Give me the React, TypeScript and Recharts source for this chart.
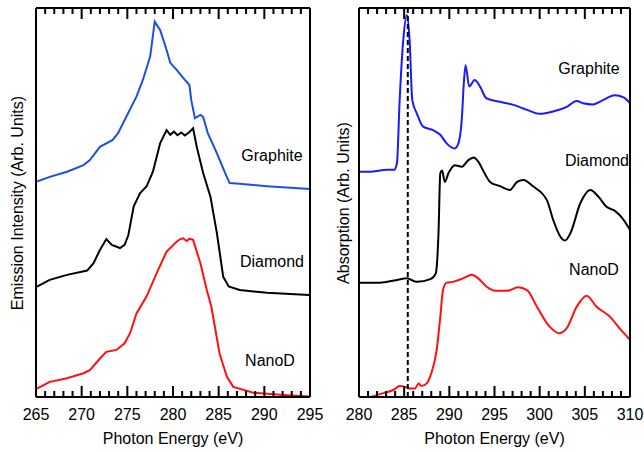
import { Line, LineChart, ReferenceLine, XAxis, YAxis } from "recharts";

const FONT = "Arial, 'Liberation Sans', Helvetica, sans-serif";

// emission (left panel), energies in eV, intensities in arb. units (0..100 of panel height)
const emisGraphiteE = [265, 266.5, 268.4, 270.2, 270.9, 272.0, 273.4, 274.0, 274.9, 276.0, 276.7, 277.5, 278.0, 278.6, 279.3, 279.7, 280.4, 281.3, 281.8, 282.0, 282.4, 283.0, 283.3, 283.8, 284.8, 285.7, 286.2, 287.3, 290.3, 295];
const emisGraphiteV = [55.3, 56.6, 57.9, 59.6, 60.9, 64.3, 66.1, 67.9, 72.1, 77.2, 81.5, 87.5, 96.5, 94.3, 89.2, 85.9, 84.1, 81.5, 80.2, 76.3, 71.7, 72.5, 72.0, 67.9, 62.7, 57.6, 55.0, 54.8, 54.2, 53.5];

const emisDiamondE = [265.1, 266.5, 268.4, 270.6, 271.3, 272.0, 272.7, 273.3, 274.2, 274.7, 275.1, 275.7, 276.4, 277.1, 277.8, 278.6, 279.3, 279.7, 280.1, 280.5, 280.9, 281.3, 281.7, 282.2, 282.6, 283.3, 284.1, 284.8, 285.5, 286.1, 287.3, 290.3, 294.9];
const emisDiamondV = [28.4, 30.1, 31.4, 32.5, 34.4, 37.8, 40.6, 39.1, 38.3, 39.1, 41.5, 49.0, 52.4, 54.1, 57.9, 65.3, 68.6, 67.4, 68.2, 67.3, 68.0, 67.2, 67.9, 69.1, 64.3, 57.6, 51.5, 42.2, 30.9, 28.4, 27.5, 26.8, 26.2];

const emisNanoE = [265, 266.5, 268.4, 270.2, 270.9, 272.0, 272.7, 273.8, 274.7, 275.3, 276.0, 277.1, 278.2, 279.3, 280.4, 280.8, 281.1, 281.5, 281.8, 282.2, 283.0, 283.7, 284.2, 285.1, 285.9, 286.6, 288.8, 292.1, 294.9];
const emisNanoV = [2.0, 3.9, 4.8, 6.1, 6.9, 9.9, 11.6, 12.1, 13.8, 16.4, 21.5, 25.8, 31.8, 37.4, 39.9, 40.6, 40.8, 40.1, 40.7, 40.4, 34.4, 27.5, 23.2, 11.2, 5.2, 2.6, 1.1, 0.5, 0.1];

// absorption (right panel)
const absGraphiteE = [280, 281.2, 283.1, 283.9, 284.2, 284.5, 284.9, 285.3, 285.6, 285.9, 286.4, 287.1, 288.2, 289.0, 289.7, 290.6, 291.0, 291.4, 291.6, 291.8, 292.2, 292.8, 293.4, 294.1, 295.6, 297.1, 298.6, 300.0, 301.5, 303.0, 304.1, 304.8, 305.9, 307.0, 308.3, 309.3, 310];
const absGraphiteV = [57.9, 57.9, 58.4, 58.4, 60.1, 76.3, 91.8, 98.2, 91.8, 76.3, 72.9, 69.5, 68.6, 67.4, 65.2, 63.9, 65.2, 72.1, 80.6, 85.3, 79.8, 81.5, 79.8, 76.8, 75.9, 75.1, 73.8, 72.8, 73.4, 74.6, 76.1, 75.5, 75.2, 76.3, 77.6, 77.0, 75.5];

const absDiamondE = [280, 282.3, 284.2, 285.3, 286.4, 287.9, 288.5, 288.8, 289.0, 289.2, 289.5, 289.9, 290.6, 291.4, 292.1, 292.7, 293.2, 293.9, 294.5, 295.6, 296.7, 297.5, 298.2, 299.3, 300.8, 301.5, 302.3, 302.8, 303.4, 304.5, 305.6, 306.5, 307.4, 308.3, 309.3, 310];
const absDiamondV = [29.4, 29.4, 30.1, 30.5, 29.6, 30.3, 31.8, 42.1, 57.5, 58.2, 55.3, 57.5, 59.6, 59.2, 60.9, 61.6, 60.5, 57.5, 55.3, 54.2, 53.2, 55.3, 55.8, 54.1, 50.6, 45.5, 41.2, 40.2, 42.1, 49.8, 53.2, 51.5, 48.9, 47.9, 45.5, 42.9];

const absNanoE = [281.4, 282.7, 283.8, 284.5, 285.1, 285.6, 286.2, 286.6, 286.9, 287.5, 288.0, 288.6, 289.0, 289.3, 289.7, 290.4, 291.5, 292.5, 293.2, 294.1, 295.1, 296.4, 297.6, 298.6, 299.7, 301.1, 302.2, 303.0, 304.1, 305.2, 306.3, 307.8, 308.9, 310];
const absNanoV = [0.1, 1.0, 1.8, 2.8, 2.6, 2.2, 2.2, 3.5, 2.8, 3.5, 6.1, 12.1, 20.6, 27.5, 29.4, 29.6, 30.5, 31.4, 30.5, 28.4, 27.3, 27.3, 28.2, 27.5, 23.2, 18.1, 16.4, 17.7, 23.2, 26.0, 23.2, 20.6, 17.5, 14.7];

const PI_STAR_EDGE = 285.4;

const emisMajor = [265, 270, 275, 280, 285, 290, 295];
const absMajor = [280, 285, 290, 295, 300, 305, 310];
const emisMinor = Array.from({ length: 31 }, (_, i) => 265 + i);
const absMinor = Array.from({ length: 31 }, (_, i) => 280 + i);

const zip = (es: number[], vs: number[]) => es.map((e, i) => ({ e, v: vs[i] }));

const frameLine = { stroke: "#000", strokeWidth: 2 };

// plot box is 389px tall over a 0..100 intensity scale; tick lengths in those units
const PLOT_H = 389;
const MAJOR_LEN = (11 * 100) / PLOT_H;
const MINOR_LEN = (6 * 100) / PLOT_H;

// inward tick marks as broken polylines (null breaks the path between ticks)
function tickMarks(minor: number[], major: number[], edge: "bottom" | "top") {
  const base = edge === "bottom" ? 0 : 100;
  const dir = edge === "bottom" ? 1 : -1;
  return minor.flatMap((t) => {
    const len = major.includes(t) ? MAJOR_LEN : MINOR_LEN;
    return [
      { e: t, v: base },
      { e: t, v: base + dir * len },
      { e: t, v: null },
    ];
  });
}

type Series = { data: { e: number; v: number }[]; color: string };

function Panel({
  width,
  margin,
  domain,
  major,
  minor,
  series,
  curve,
  marker,
}: {
  width: number;
  margin: { left: number; right: number };
  domain: [number, number];
  major: number[];
  minor: number[];
  series: Series[];
  curve: "linear" | "monotone";
  marker?: number;
}) {
  const axisBase = {
    dataKey: "e",
    type: "number" as const,
    domain,
    allowDataOverflow: true,
  };
  return (
    <LineChart
      width={width}
      height={452}
      margin={{ top: 7, right: margin.right - 1, bottom: 0, left: margin.left - 1 }}
    >
      <XAxis
        {...axisBase}
        xAxisId="bottom"
        height={55}
        ticks={major}
        interval={0}
        tickSize={0}
        tickMargin={12}
        tickLine={false}
        axisLine={frameLine}
        tick={{ fontSize: 16, fontFamily: FONT, fill: "#000" }}
        label={{
          value: "Photon Energy (eV)",
          position: "insideBottom",
          offset: 8,
          fontSize: 16,
          fontFamily: FONT,
          fill: "#000",
        }}
      />
      <XAxis
        {...axisBase}
        xAxisId="top"
        orientation="top"
        height={1}
        tick={false}
        tickLine={false}
        axisLine={frameLine}
      />
      <YAxis
        yAxisId="left"
        type="number"
        domain={[0, 100]}
        width={1}
        tick={false}
        tickLine={false}
        axisLine={frameLine}
      />
      <YAxis
        yAxisId="right"
        orientation="right"
        type="number"
        domain={[0, 100]}
        width={1}
        tick={false}
        tickLine={false}
        axisLine={frameLine}
      />
      {series.map((s, i) => (
        <Line
          key={i}
          xAxisId="bottom"
          yAxisId="left"
          data={s.data}
          dataKey="v"
          type={curve}
          stroke={s.color}
          strokeWidth={2}
          dot={false}
          activeDot={false}
          isAnimationActive={false}
        />
      ))}
      {marker !== undefined && (
        <ReferenceLine
          xAxisId="bottom"
          yAxisId="left"
          x={marker}
          stroke="#000"
          strokeWidth={2}
          strokeDasharray="5 3"
        />
      )}
      {(["bottom", "top"] as const).map((edge) => (
        <Line
          key={edge}
          xAxisId="bottom"
          yAxisId="left"
          data={tickMarks(minor, major, edge)}
          dataKey="v"
          type="linear"
          connectNulls={false}
          stroke="#000"
          strokeWidth={2}
          strokeLinecap="butt"
          dot={false}
          activeDot={false}
          isAnimationActive={false}
        />
      ))}
    </LineChart>
  );
}

function Tag({ x, y, text, rotate }: { x: number; y: number; text: string; rotate?: boolean }) {
  return (
    <div
      style={{
        position: "absolute",
        left: x,
        top: y,
        transform: `translate(-50%, -50%)${rotate ? " rotate(-90deg)" : ""}`,
        fontFamily: FONT,
        fontSize: 16,
        lineHeight: 1,
        whiteSpace: "nowrap",
        color: "#000",
      }}
    >
      {text}
    </div>
  );
}

export default function App() {
  return (
    <div style={{ position: "absolute", left: 0, top: 0, width: 644, height: 452, background: "#fff", overflow: "hidden" }}>
      <div style={{ position: "absolute", left: 0, top: 0 }}>
        <Panel
          width={330}
          margin={{ left: 36, right: 20 }}
          domain={[265, 295]}
          major={emisMajor}
          minor={emisMinor}
          curve="linear"
          series={[
            { data: zip(emisGraphiteE, emisGraphiteV), color: "#1f4fe0" },
            { data: zip(emisDiamondE, emisDiamondV), color: "#000000" },
            { data: zip(emisNanoE, emisNanoV), color: "#ff1010" },
          ]}
        />
      </div>
      <div style={{ position: "absolute", left: 330, top: 0 }}>
        <Panel
          width={314}
          margin={{ left: 29, right: 14 }}
          domain={[280, 310]}
          major={absMajor}
          minor={absMinor}
          curve="monotone"
          marker={PI_STAR_EDGE}
          series={[
            { data: zip(absGraphiteE, absGraphiteV), color: "#1a1aff" },
            { data: zip(absDiamondE, absDiamondV), color: "#000000" },
            { data: zip(absNanoE, absNanoV), color: "#ff1010" },
          ]}
        />
      </div>
      <Tag x={18} y={203} text="Emission Intensity (Arb. Units)" rotate />
      <Tag x={344} y={203} text="Absorption (Arb. Units)" rotate />
      <Tag x={272} y={156} text="Graphite" />
      <Tag x={272} y={262} text="Diamond" />
      <Tag x={270} y={361} text="NanoD" />
      <Tag x={589} y={69} text="Graphite" />
      <Tag x={597} y={161} text="Diamond" />
      <Tag x={594} y={270} text="NanoD" />
    </div>
  );
}
